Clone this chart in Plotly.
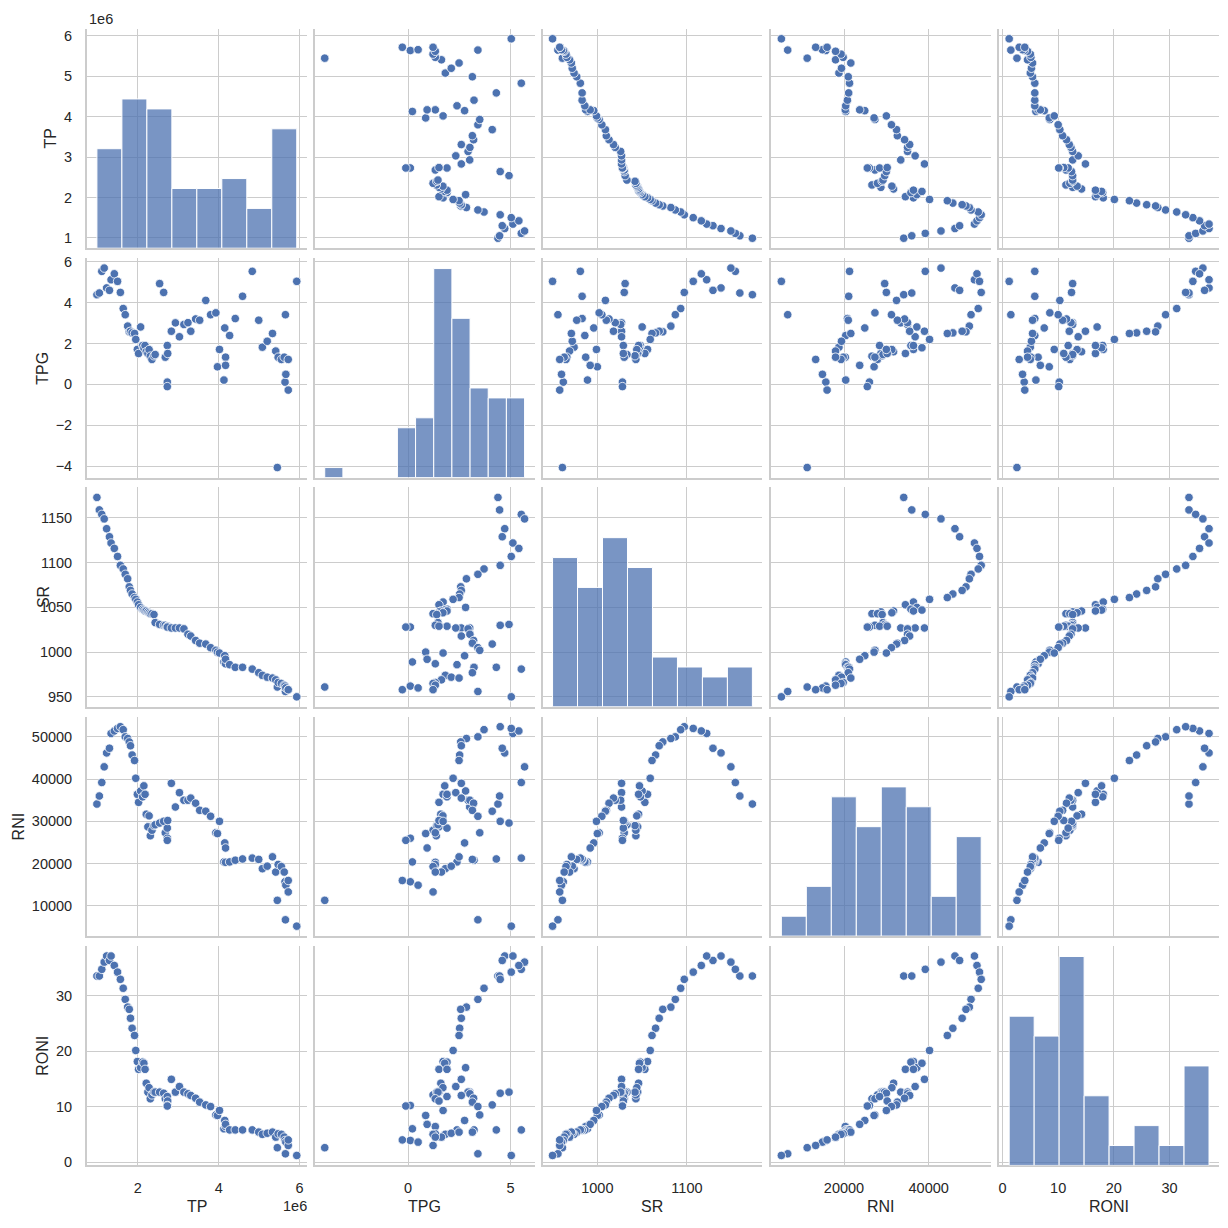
import numpy as np
import plotly.graph_objects as go

variables = ["TP", "TPG", "SR", "RNI", "RONI"]

tp = [
    990000, 1050000, 1110000, 1170000, 1230000, 1300000, 1340000, 1420000, 1500000, 1570000,
    1640000, 1690000, 1750000, 1790000, 1820000, 1860000, 1920000, 1950000, 1990000, 2020000,
    2070000, 2120000, 2150000, 2180000, 2210000, 2250000, 2280000, 2310000, 2350000, 2400000,
    2430000, 2540000, 2640000, 2680000, 2730000, 2740000, 2730000, 2730000, 2830000, 2930000,
    3030000, 3140000, 3240000, 3310000, 3430000, 3530000, 3680000, 3800000, 3930000, 3970000,
    4020000, 4130000, 4150000, 4170000, 4170000, 4270000, 4410000, 4590000, 4830000, 4990000,
    5080000, 5200000, 5330000, 5410000, 5450000, 5470000, 5550000, 5620000, 5640000, 5650000,
    5660000, 5720000, 5720000, 5930000,
]
tpg = [
    4.39, 4.47, 5.53, 5.69, 4.72, 4.60, 5.12, 5.41, 5.04, 4.50,
    3.71, 3.41, 2.85, 2.57, 2.60, 2.52, 2.49, 2.20, 1.71, 1.51,
    2.81, 1.90, 1.79, 1.90, 1.60, 1.51, 1.70, 1.38, 1.22, 1.40,
    1.46, 4.93, 4.50, 1.33, 1.90, 1.51, 0.11, -0.11, 2.60, 3.01,
    2.33, 2.93, 3.02, 2.60, 3.20, 3.14, 4.11, 3.41, 3.50, 0.86,
    1.71, 0.21, 2.76, 1.33, 0.93, 2.39, 3.22, 4.31, 5.53, 3.14,
    1.82, 2.11, 2.49, 1.63, -4.07, 1.33, 1.22, 1.33, 0.11, 3.41,
    0.49, 1.22, -0.28, 5.04,
]
sr = [
    1173, 1159, 1154, 1149, 1138, 1129, 1122, 1116, 1107, 1097,
    1093, 1087, 1082, 1073, 1069, 1065, 1061, 1059, 1056, 1053,
    1050, 1048, 1047, 1046, 1046, 1045, 1044, 1043, 1043, 1042,
    1033, 1031, 1030, 1030, 1029, 1029, 1028, 1028, 1027, 1027,
    1027, 1026, 1020, 1018, 1013, 1010, 1009, 1005, 1002, 1000,
    999, 989, 996, 987, 992, 986, 983, 983, 981, 977,
    974, 972, 971, 969, 961, 966, 965, 963, 962, 956,
    960, 958, 958, 950,
]
rni = [
    34100, 36000, 39200, 42900, 46200, 47300, 50800, 51400, 52000, 52400,
    51700, 50000, 49600, 48800, 47900, 45700, 44400, 40200, 36400, 34500,
    37200, 35800, 38400, 36400, 31700, 28700, 31300, 26600, 27900, 29000,
    29200, 29600, 30000, 27300, 28400, 30200, 26000, 25500, 39000, 33400,
    36800, 35000, 35000, 35500, 34300, 32600, 32400, 31200, 27300, 27100,
    30000, 20400, 24900, 20300, 23700, 20400, 20800, 21100, 21300, 21000,
    18800, 19400, 21600, 18000, 11300, 19800, 19300, 18000, 15700, 6700,
    14900, 13300, 16000, 5200,
]
roni = [
    33.5, 33.5, 34.7, 36.0, 37.1, 36.3, 37.1, 35.4, 34.2, 32.9,
    31.3, 29.3, 27.9, 27.5, 25.9, 24.1, 22.8, 20.1, 18.1, 16.7,
    17.0, 18.0, 17.8, 16.7, 14.2, 12.6, 13.4, 11.4, 12.1, 12.6,
    12.6, 12.6, 12.4, 11.4, 11.8, 11.0, 10.2, 10.1, 14.9, 12.6,
    13.6, 12.6, 12.3, 12.0, 11.5, 10.8, 10.3, 10.0, 8.5, 8.4,
    9.3, 6.0, 7.5, 6.4, 6.8, 5.8, 5.8, 5.8, 5.8, 5.4,
    5.0, 5.2, 5.4, 4.5, 2.6, 5.1, 5.0, 4.5, 3.9, 1.5,
    3.6, 3.0, 4.0, 1.2,
]

data = {"TP": tp, "TPG": tpg, "SR": sr, "RNI": rni, "RONI": roni}

# tick marks as matplotlib placed them (x and y differ in density)
x_tick_vals = {
    "TP": [2e6, 4e6, 6e6],
    "TPG": [0, 5],
    "SR": [1000, 1100],
    "RNI": [20000, 40000],
    "RONI": [0, 10, 20, 30],
}
x_tick_text = {
    "TP": ["2", "4", "6"],
    "TPG": ["0", "5"],
    "SR": ["1000", "1100"],
    "RNI": ["20000", "40000"],
    "RONI": ["0", "10", "20", "30"],
}
y_tick_vals = {
    "TP": [1e6, 2e6, 3e6, 4e6, 5e6, 6e6],
    "TPG": [-4, -2, 0, 2, 4, 6],
    "SR": [950, 1000, 1050, 1100, 1150],
    "RNI": [10000, 20000, 30000, 40000, 50000],
    "RONI": [0, 10, 20, 30],
}
y_tick_text = {
    "TP": ["1", "2", "3", "4", "5", "6"],
    "TPG": ["\u22124", "\u22122", "0", "2", "4", "6"],
    "SR": ["950", "1000", "1050", "1100", "1150"],
    "RNI": ["10000", "20000", "30000", "40000", "50000"],
    "RONI": ["0", "10", "20", "30"],
}
hist_bins = {"TP": 8, "TPG": 11, "SR": 8, "RNI": 8, "RONI": 8}

W = H = 1228
col_left = [86, 314, 542, 771, 999]
row_top = [25, 256, 487, 718, 949]
ylabel_x = [50, 42, 42, 17, 42]
PANEL_W = 220
PANEL_H = 221

BLUE = "#4c72b0"
GRID = "#cccccc"
TEXT = "#262626"
FONT = "Liberation Sans, Arial, DejaVu Sans, sans-serif"


def aid(k):
    return "" if k == 1 else str(k)


def px_x(x):
    return x / W


def px_y(y):
    return 1 - y / H


def xdom(c):
    return [px_x(col_left[c]), px_x(col_left[c] + PANEL_W)]


def ydom(r):
    return [px_y(row_top[r] + PANEL_H), px_y(row_top[r])]


def padded(v):
    lo, hi = min(v), max(v)
    m = 0.05 * (hi - lo)
    return [lo - m, hi + m]


ranges = {name: padded(data[name]) for name in variables}

# histograms for the diagonal (all diagonals share one count scale)
hists = {}
for name in variables:
    edges = np.linspace(min(data[name]), max(data[name]), hist_bins[name] + 1)
    counts, _ = np.histogram(data[name], bins=edges)
    hists[name] = (edges, counts)
count_max = max(h[1].max() for h in hists.values())

axis_style = dict(
    showgrid=True,
    gridcolor=GRID,
    gridwidth=1.3,
    showline=True,
    linecolor=GRID,
    linewidth=1.7,
    zeroline=False,
    ticks="outside",
    tickcolor="rgba(0,0,0,0)",
    tickfont=dict(size=14.5, color=TEXT, family=FONT),
    fixedrange=True,
)

fig = go.Figure()
layout = {}

for r, yname in enumerate(variables):
    for c, xname in enumerate(variables):
        k = r * 5 + c + 1
        layout["xaxis" + aid(k)] = dict(
            domain=xdom(c),
            range=ranges[xname],
            anchor="y" + aid(k),
            tickvals=x_tick_vals[xname],
            ticktext=x_tick_text[xname],
            showticklabels=(r == 4),
            ticklen=8,
            **axis_style,
        )
        layout["yaxis" + aid(k)] = dict(
            domain=ydom(r),
            range=ranges[yname],
            anchor="x" + aid(k),
            tickvals=y_tick_vals[yname],
            ticktext=y_tick_text[yname],
            showticklabels=(c == 0),
            ticklen=10,
            **axis_style,
        )

        if r == c:
            # empty trace so the panel's own axes (grid, spines, ticks) get drawn
            fig.add_trace(
                go.Scatter(
                    x=[], y=[], mode="markers",
                    xaxis="x" + aid(k), yaxis="y" + aid(k), showlegend=False,
                )
            )
            kc = 25 + r + 1
            layout["yaxis" + str(kc)] = dict(
                domain=ydom(r),
                anchor="x" + aid(k),
                range=[0, count_max * 1.05],
                visible=False,
                showgrid=False,
                zeroline=False,
                fixedrange=True,
            )
            edges, counts = hists[xname]
            fig.add_trace(
                go.Bar(
                    x=(edges[:-1] + edges[1:]) / 2,
                    y=counts,
                    width=np.diff(edges),
                    marker=dict(color="rgba(76,114,176,0.75)", line=dict(color="white", width=1)),
                    xaxis="x" + aid(k),
                    yaxis="y" + str(kc),
                    showlegend=False,
                )
            )
        else:
            fig.add_trace(
                go.Scatter(
                    x=data[xname],
                    y=data[yname],
                    mode="markers",
                    marker=dict(size=8.5, color=BLUE, line=dict(color="white", width=0.8)),
                    xaxis="x" + aid(k),
                    yaxis="y" + aid(k),
                    showlegend=False,
                )
            )

# axis titles and offset texts
annotations = []
for c, name in enumerate(variables):
    annotations.append(
        dict(
            text=name, x=px_x(col_left[c] + PANEL_W / 2), y=px_y(1211),
            xref="paper", yref="paper", showarrow=False,
            xanchor="center", yanchor="middle",
            font=dict(size=16, color=TEXT, family=FONT),
        )
    )
for r, name in enumerate(variables):
    annotations.append(
        dict(
            text=name, x=px_x(ylabel_x[r]), y=px_y(row_top[r] + PANEL_H / 2),
            xref="paper", yref="paper", showarrow=False, textangle=-90,
            xanchor="center", yanchor="middle",
            font=dict(size=16, color=TEXT, family=FONT),
        )
    )
annotations.append(
    dict(
        text="1e6", x=px_x(86), y=px_y(15), xref="paper", yref="paper",
        showarrow=False, xanchor="left", yanchor="middle",
        font=dict(size=14.5, color=TEXT, family=FONT),
    )
)
annotations.append(
    dict(
        text="1e6", x=px_x(308), y=px_y(1211), xref="paper", yref="paper",
        showarrow=False, xanchor="right", yanchor="middle",
        font=dict(size=14.5, color=TEXT, family=FONT),
    )
)

fig.update_layout(
    width=W,
    height=H,
    margin=dict(l=0, r=0, t=0, b=0),
    paper_bgcolor="white",
    plot_bgcolor="rgba(0,0,0,0)",
    font=dict(family=FONT, color=TEXT),
    hovermode=False,
    annotations=annotations,
    **layout,
)

# pin the figure to the page corner so the page is exactly the figure's size
pin_page = (
    "document.body.style.margin='0';"
    "document.documentElement.style.overflow='hidden';"
    "var d=document.getElementById('{plot_id}');"
    "d.style.position='absolute';d.style.left='0px';d.style.top='0px';"
)

fig.write_html("out.html", config={"displayModeBar": False}, post_script=pin_page)
